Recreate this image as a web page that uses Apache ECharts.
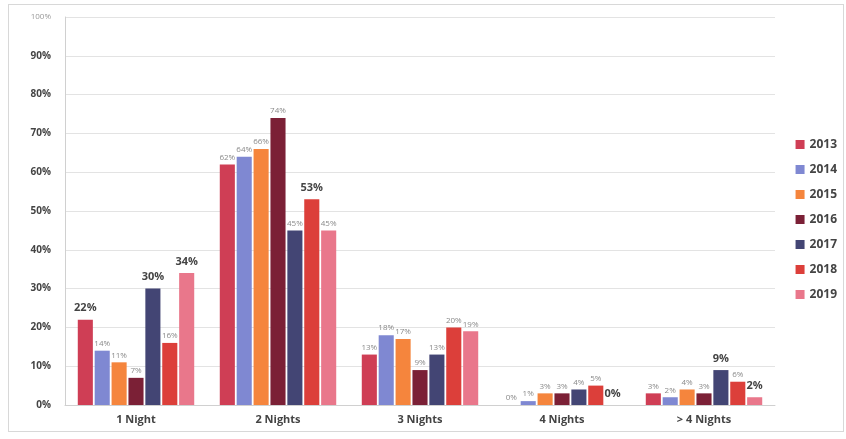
<!DOCTYPE html>
<html>
<head>
<meta charset="utf-8">
<script src="https://cdn.jsdelivr.net/npm/echarts@6/dist/echarts.min.js"></script>
<style>
  html, body { margin: 0; padding: 0; background: #fff; }
  #frame { position: absolute; left: 8px; top: 4px; width: 836px; height: 428px; border: 1px solid #d8d8d8; box-sizing: border-box; }
  #chart { position: absolute; left: 0; top: 0; width: 846px; height: 439px; }
</style>
</head>
<body>
<div id="frame"></div>
<div id="chart"></div>
<script>
// Length of stay, share of guests per year
const categories = ['1 Night', '2 Nights', '3 Nights', '4 Nights', '> 4 Nights'];
const years = ['2013', '2014', '2015', '2016', '2017', '2018', '2019'];
const v2013 = [22, 62, 13, 0, 3];
const v2014 = [14, 64, 18, 1, 2];
const v2015 = [11, 66, 17, 3, 4];
const v2016 = [7, 74, 9, 3, 3];
const v2017 = [30, 45, 13, 4, 9];
const v2018 = [16, 53, 20, 5, 6];
const v2019 = [34, 45, 19, 0, 2];
const yTicks = ['0%', '10%', '20%', '30%', '40%', '50%', '60%', '70%', '80%', '90%', '100%'];

const seriesValues = [v2013, v2014, v2015, v2016, v2017, v2018, v2019];
const colors = ['#cf3e55', '#7f88d2', '#f5853d', '#7b2036', '#434574', '#dc3f3a', '#e9778b'];

// labels printed in heavy type (year index -> category indices)
const boldLabels = { 0: [0], 4: [0, 4], 5: [1], 6: [0, 3, 4] };

const series = years.map((y, i) => ({
  name: y,
  type: 'bar',
  barGap: '12%',
  barCategoryGap: '18%',
  itemStyle: { color: colors[i] },
  data: seriesValues[i].map((v, j) => {
    const bold = (boldLabels[i] || []).includes(j);
    return {
      value: v,
      label: bold
        ? { fontSize: 11, fontWeight: 'bold', color: '#444', distance: 6 }
        : { fontSize: 8, color: '#8a8a8a', distance: 3 }
    };
  }),
  label: {
    show: true,
    position: 'top',
    fontFamily: 'Open Sans',
    formatter: p => p.value + '%'
  }
}));

const chart = echarts.init(document.getElementById('chart'), null, { renderer: 'canvas' });
chart.setOption({
  animation: false,
  backgroundColor: 'transparent',
  textStyle: { fontFamily: 'Open Sans' },
  grid: { left: 65, right: 71, top: 17, bottom: 34 },
  legend: {
    orient: 'vertical',
    right: 4,
    top: 'middle',
    itemWidth: 9,
    itemHeight: 9,
    itemGap: 13,
    icon: 'rect',
    textStyle: { fontSize: 12, fontWeight: 'bold', color: '#444', fontFamily: 'Open Sans' },
    data: years
  },
  xAxis: {
    type: 'category',
    data: categories,
    axisTick: { show: false },
    axisLine: { lineStyle: { color: '#d0d0d0' } },
    axisLabel: { fontSize: 11, fontWeight: 'bold', color: '#444', margin: 9 }
  },
  yAxis: {
    type: 'value',
    min: 0,
    max: 100,
    interval: 10,
    axisLine: { show: true, lineStyle: { color: '#d0d0d0' } },
    axisTick: { show: false },
    splitLine: { lineStyle: { color: '#e3e3e3' } },
    axisLabel: {
      fontSize: 10,
      fontWeight: 'bold',
      color: '#444',
      margin: 14,
      formatter: (v, idx) => idx === 10 ? '{top|' + yTicks[idx] + '}' : yTicks[idx],
      rich: { top: { fontSize: 8, fontWeight: 'normal', color: '#999' } }
    }
  },
  series: series
});
</script>
</body>
</html>
